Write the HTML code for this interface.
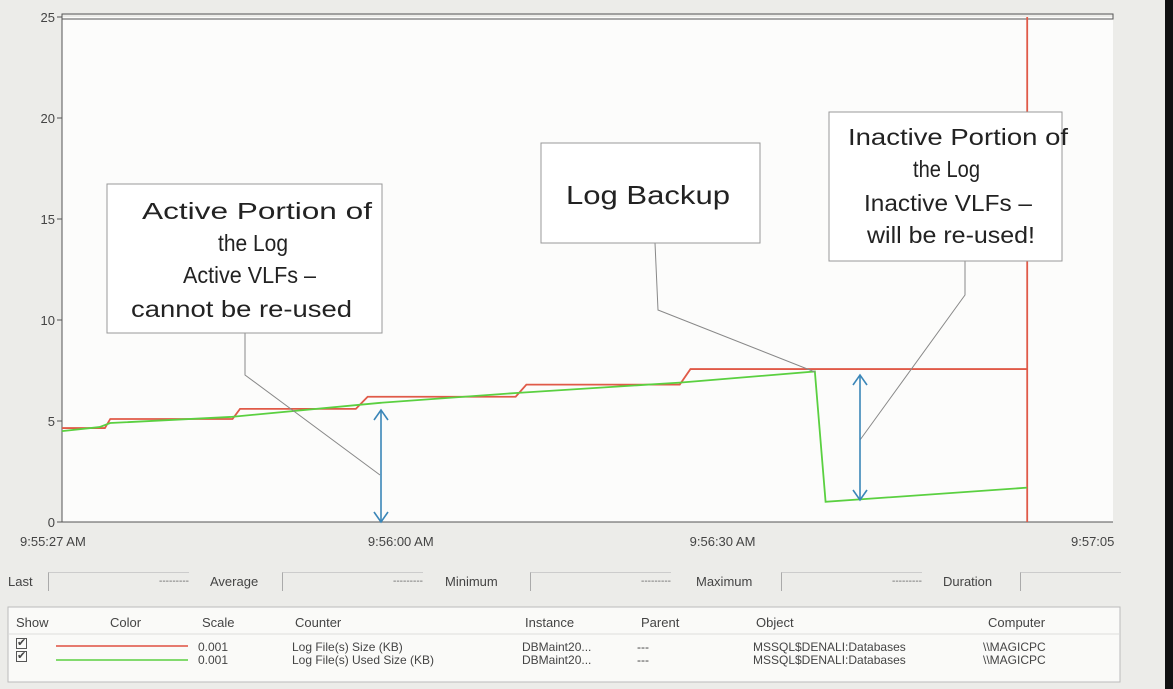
<!DOCTYPE html>
<html><head><meta charset="utf-8"><style>
body{margin:0;width:1173px;height:689px;background:#ecece9;overflow:hidden;font-family:"Liberation Sans",sans-serif;position:relative}
.t{position:absolute;font-size:13px;color:#444;white-space:nowrap}
</style></head><body>
<svg width="1173" height="689" style="position:absolute;left:0;top:0" font-family="Liberation Sans, sans-serif">
<rect x="1165" y="0" width="8" height="689" fill="#111"/>
<rect x="62" y="17" width="1051" height="505" fill="#fcfcfb"/>
<rect x="62" y="14" width="1051" height="5" fill="none" stroke="#555" stroke-width="1"/>
<line x1="62" y1="17" x2="62" y2="522" stroke="#555"/>
<line x1="62" y1="522" x2="1113" y2="522" stroke="#555"/>
<g id="yticks"></g><g id="xticks"></g>
<g id="series"></g>
<g stroke="#888" fill="none" stroke-width="1">
<polyline points="245,333 245,375 380,475"/>
<polyline points="655,243 658,310 815,372"/>
<polyline points="965,261 965,295 860,440"/>
</g>
<g stroke="#3a86b8" stroke-width="1.6" fill="none">
<line x1="381" y1="410" x2="381" y2="522"/><polyline points="374,420 381,410 388,420"/><polyline points="374,512 381,522 388,512"/>
<line x1="860" y1="375" x2="860" y2="500"/><polyline points="853,385 860,375 867,385"/><polyline points="853,490 860,500 867,490"/>
</g>
<g font-size="23" fill="#222">
<rect x="107" y="184" width="275" height="149" fill="#fff" stroke="#999"/>
<text x="142" y="219" textLength="230" lengthAdjust="spacingAndGlyphs">Active Portion of</text>
<text x="218" y="251" textLength="70" lengthAdjust="spacingAndGlyphs">the Log</text>
<text x="183" y="283" textLength="133" lengthAdjust="spacingAndGlyphs">Active VLFs –</text>
<text x="131" y="317" textLength="221" lengthAdjust="spacingAndGlyphs">cannot be re-used</text>
</g>
<g fill="#222">
<rect x="541" y="143" width="219" height="100" fill="#fff" stroke="#999"/>
<text x="566" y="204" font-size="26" textLength="164" lengthAdjust="spacingAndGlyphs">Log Backup</text>
</g>
<g font-size="23" fill="#222">
<rect x="829" y="112" width="233" height="149" fill="#fff" stroke="#999"/>
<text x="848" y="145" textLength="220" lengthAdjust="spacingAndGlyphs">Inactive Portion of</text>
<text x="913" y="177" textLength="67" lengthAdjust="spacingAndGlyphs">the Log</text>
<text x="864" y="211" textLength="168" lengthAdjust="spacingAndGlyphs">Inactive VLFs –</text>
<text x="867" y="243" textLength="168" lengthAdjust="spacingAndGlyphs">will be re-used!</text>
</g>
<rect x="8" y="607" width="1112" height="75" fill="#fafaf8" stroke="#bbb"/>
<line x1="9" y1="634" x2="1119" y2="634" stroke="#ddd"/>
<line x1="56" y1="646" x2="188" y2="646" stroke="#e05040" stroke-width="1.5"/>
<line x1="56" y1="660" x2="188" y2="660" stroke="#5ad040" stroke-width="1.5"/>
</svg>
<div class="t" style="left:8px;top:574px">Last</div>
<div style="position:absolute;left:48px;top:572px;width:140px;height:18px;border-left:1px solid #aaa;border-top:1px solid #ccc;font-size:10px;color:#666;text-align:right;line-height:18px">---------</div>
<div class="t" style="left:210px;top:574px">Average</div>
<div style="position:absolute;left:282px;top:572px;width:140px;height:18px;border-left:1px solid #aaa;border-top:1px solid #ccc;font-size:10px;color:#666;text-align:right;line-height:18px">---------</div>
<div class="t" style="left:445px;top:574px">Minimum</div>
<div style="position:absolute;left:530px;top:572px;width:140px;height:18px;border-left:1px solid #aaa;border-top:1px solid #ccc;font-size:10px;color:#666;text-align:right;line-height:18px">---------</div>
<div class="t" style="left:696px;top:574px">Maximum</div>
<div style="position:absolute;left:781px;top:572px;width:140px;height:18px;border-left:1px solid #aaa;border-top:1px solid #ccc;font-size:10px;color:#666;text-align:right;line-height:18px">---------</div>
<div class="t" style="left:943px;top:574px">Duration</div>
<div style="position:absolute;left:1020px;top:572px;width:100px;height:18px;border-left:1px solid #aaa;border-top:1px solid #ccc"></div>

<div class="t" style="left:16px;top:615px">Show</div>
<div class="t" style="left:110px;top:615px">Color</div>
<div class="t" style="left:202px;top:615px">Scale</div>
<div class="t" style="left:295px;top:615px">Counter</div>
<div class="t" style="left:525px;top:615px">Instance</div>
<div class="t" style="left:641px;top:615px">Parent</div>
<div class="t" style="left:756px;top:615px">Object</div>
<div class="t" style="left:988px;top:615px">Computer</div>
<div class="t" style="left:16px;top:638px;font-size:11px;border:1px solid #555;width:9px;height:9px;line-height:8px">✔</div>
<div class="t" style="left:16px;top:651px;font-size:11px;border:1px solid #555;width:9px;height:9px;line-height:8px">✔</div>
<div class="t" style="left:198px;top:640px;font-size:12px">0.001</div>
<div class="t" style="left:198px;top:653px;font-size:12px">0.001</div>
<div class="t" style="left:292px;top:640px;font-size:12px">Log File(s) Size (KB)</div>
<div class="t" style="left:292px;top:653px;font-size:12px">Log File(s) Used Size (KB)</div>
<div class="t" style="left:522px;top:640px;font-size:12px">DBMaint20...</div>
<div class="t" style="left:522px;top:653px;font-size:12px">DBMaint20...</div>
<div class="t" style="left:637px;top:640px;font-size:12px">---</div>
<div class="t" style="left:637px;top:653px;font-size:12px">---</div>
<div class="t" style="left:753px;top:640px;font-size:12px">MSSQL$DENALI:Databases</div>
<div class="t" style="left:753px;top:653px;font-size:12px">MSSQL$DENALI:Databases</div>
<div class="t" style="left:983px;top:640px;font-size:12px">\\MAGICPC</div>
<div class="t" style="left:983px;top:653px;font-size:12px">\\MAGICPC</div>
<script>
const yTicks=[0,5,10,15,20,25];
const xTickSecs=[0,33,63,98];
const xTickLabels=["9:55:27 AM","9:56:00 AM","9:56:30 AM","9:57:05"];
const sizeTimes=[0,4.0,4.5,15.9,16.6,27.4,28.5,42.3,43.3,57.6,58.6,90,90,90];
const sizeValues=[4.65,4.65,5.1,5.1,5.6,5.6,6.2,6.2,6.8,6.8,7.57,7.57,25,0];
const usedTimes=[0,3.5,4.5,15.7,29.7,42.7,57.6,70.2,71.2,90];
const usedValues=[4.5,4.7,4.9,5.2,5.9,6.4,6.9,7.45,1.0,1.7];
const NS="http://www.w3.org/2000/svg";
const X0=62,X1=1113,Y0=522,Y1=17,TMAX=98,VMAX=25;
const xs=t=>X0+t/TMAX*(X1-X0), ys=v=>Y0-v/VMAX*(Y0-Y1);
function mk(tag,attrs,parent){const e=document.createElementNS(NS,tag);for(const k in attrs)e.setAttribute(k,attrs[k]);document.getElementById(parent).appendChild(e);return e;}
yTicks.forEach(v=>{
  const l=mk('line',{x1:X0-5,x2:X0,y1:ys(v),y2:ys(v),stroke:'#555'},'yticks');
  
  
  const t=mk('text',{x:X0-7,y:ys(v)+5,'font-size':13,'text-anchor':'end',fill:'#444'},'yticks');
  t.textContent=v;
  
  
});
xTickSecs.forEach((s,i)=>{
  const t=mk('text',{x:i==0?X0-42:(i==3?X1-42:xs(s)-48),y:546,'font-size':13,fill:'#444'},'xticks');
  t.textContent=xTickLabels[i];
  
  
});
function line(ts,vs,color,name){
  const p=mk('polyline',{points:ts.map((t,i)=>xs(t)+','+ys(vs[i])).join(' '),fill:'none',stroke:color,'stroke-width':1.8},'series');
  
  
}
line(sizeTimes,sizeValues,'#e05a48','log-file-size-line');
line(usedTimes,usedValues,'#5ad040','log-file-used-size-line');
</script>
</body></html>
